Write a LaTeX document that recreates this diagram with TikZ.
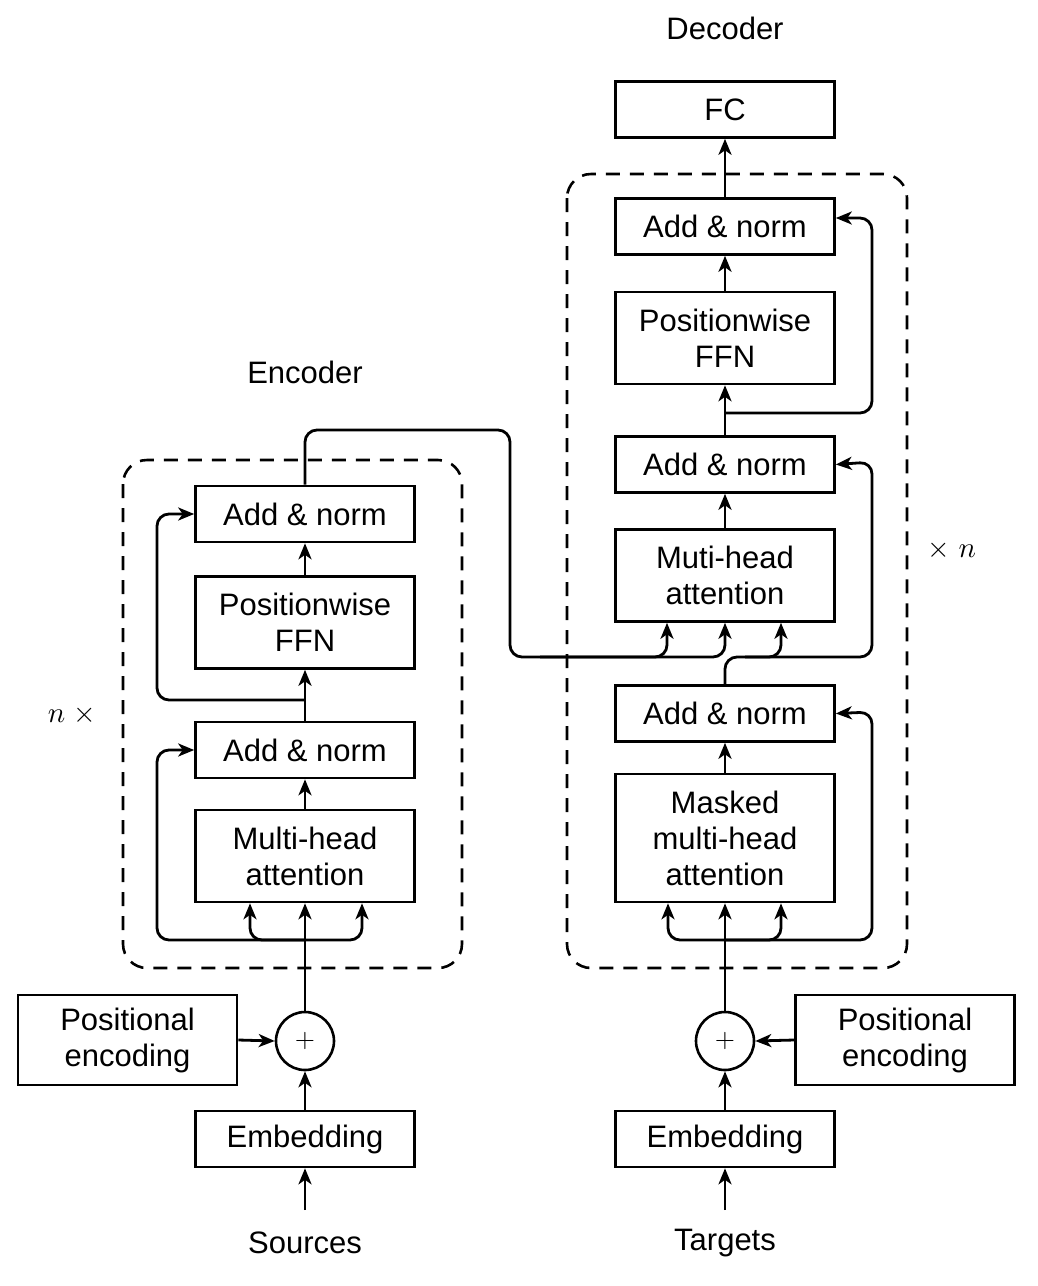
\documentclass[tikz,border=0pt]{standalone}
\usepackage{fontspec}
\setmainfont{Liberation Sans}
\usetikzlibrary{arrows.meta}
\begin{document}
\begin{tikzpicture}[x=1pt,y=-1pt,
  txt/.style={font=\fontsize{31}{36}\selectfont},
  box/.style={txt, draw, line width=2.6pt, minimum width=219pt, align=center, inner sep=0pt},
  conn/.style={line width=2.8pt, rounded corners=12pt},
  arr/.style={conn, -{Stealth[length=16pt,width=13pt,inset=4.5pt]}},
  plus/.style={draw, circle, line width=2.6pt, minimum size=58pt, inner sep=0pt},
  mathlbl/.style={scale=2.9, inner sep=0pt},
  dashbox/.style={draw, line width=2.6pt, dash pattern=on 14pt off 10pt, rounded corners=24pt}]
\useasboundingbox (0,0) rectangle (1038,1286);

% ---------- Encoder ----------
\draw[dashbox] (123,460) rectangle (462,968);
\node[txt] (enclbl) at (305,372) {Encoder};
\node[mathlbl] (nx) at (72,715) {$n\;\times$};

\node[box, minimum height=56pt] (ean2) at (305,514) {Add \& norm};
\node[box, minimum height=92pt] (effn) at (305,622.5) {Positionwise\\FFN};
\node[box, minimum height=56pt] (ean1) at (305,750) {Add \& norm};
\node[box, minimum height=92pt] (emha) at (305,856) {Multi-head\\attention};
\node[plus] (eplus) at (305,1041) {\scalebox{2.6}{$+$}};
\node[box, minimum height=90pt] (epos) at (127.5,1040) {Positional\\encoding};
\node[box, minimum height=56pt] (eemb) at (305,1139) {Embedding};
\node[txt] (src) at (305,1243) {Sources};
\coordinate (srcarr) at (305,1210);

\coordinate (ej) at (305,940);
\coordinate (er1) at (157,750);
\coordinate (ej2) at (305,700);
\coordinate (er2) at (157,514);

\draw[arr] (srcarr) -- (eemb.south);
\draw[arr] (eemb.north) -- (eplus.south);
\draw[arr] (epos.east) -- (eplus.west);
\draw[arr] (eplus.north) -- (emha.south);
\draw[arr] (ej) -| ([xshift=-55pt]emha.south);
\draw[arr] (ej) -| ([xshift=57pt]emha.south);
\draw[arr] (ej) -| (er1) -- (ean1.west);
\draw[arr] (emha.north) -- (ean1.south);
\draw[arr] (ean1.north) -- (effn.south);
\draw[arr] (ej2) -| (er2) -- (ean2.west);
\draw[arr] (effn.north) -- (ean2.south);

% ---------- Decoder ----------
\draw[dashbox] (567,174) rectangle (907,968);
\node[txt] (declbl) at (725,28) {Decoder};
\node[mathlbl] (xn) at (952,550) {$\times\; n$};

\node[box, minimum height=56pt] (fc) at (725,109.5) {FC};
\node[box, minimum height=56pt] (dan3) at (725,226.5) {Add \& norm};
\node[box, minimum height=92pt] (dffn) at (725,338) {Positionwise\\FFN};
\node[box, minimum height=56pt] (dan2) at (725,464.5) {Add \& norm};
\node[box, minimum height=92pt] (dmha) at (725,575.5) {Muti-head\\attention};
\node[box, minimum height=56pt] (dan1) at (725,713.5) {Add \& norm};
\node[box, minimum height=128pt] (dmmha) at (725,838) {Masked\\multi-head\\attention};
\node[plus] (dplus) at (725,1041) {\scalebox{2.6}{$+$}};
\node[box, minimum height=90pt] (dpos) at (905,1040) {Positional\\encoding};
\node[box, minimum height=56pt] (demb) at (725,1139) {Embedding};
\node[txt] (tgt) at (725,1243) {Targets};
\coordinate (tgtarr) at (725,1210);

\coordinate (dj) at (725,940);
\coordinate (dr1) at (872,712);
\coordinate (dj2) at (725,657);
\coordinate (dj2b) at (745,657);
\coordinate (dr2) at (872,462);
\coordinate (dj3) at (725,413);
\coordinate (dr3) at (872,218);

\draw[arr] (tgtarr) -- (demb.south);
\draw[arr] (demb.north) -- (dplus.south);
\draw[arr] (dpos.west) -- (dplus.east);
\draw[arr] (dplus.north) -- (dmmha.south);
\draw[arr] (dj) -| ([xshift=-57pt]dmmha.south);
\draw[arr] (dj) -| ([xshift=56pt]dmmha.south);
\draw[arr] (dj) -| (dr1) -- (dan1.east);
\draw[arr] (dmmha.north) -- (dan1.south);
\draw[arr] (dan1.north) -- (dj2) -| ([xshift=56pt]dmha.south);
\draw[arr] (dj2b) -| (dr2) -- (dan2.east);
\draw[arr] (dmha.north) -- (dan2.south);
\draw[arr] (dan2.north) -- (dffn.south);
\draw[arr] (dj3) -| (dr3) -- (dr3 -| dan3.east);
\draw[arr] (dffn.north) -- (dan3.south);
\draw[arr] (dan3.north) -- (fc.south);

% ---------- Encoder to decoder ----------
\coordinate (ec1) at (305,430);
\coordinate (ec2) at (510,430);
\coordinate (ec3) at (510,657);
\coordinate (ec4) at (540,657);
\draw[arr] (ean2.north) -- (ec1) -- (ec2) -- (ec3) -| (dmha.south);
\draw[arr] (ec4) -| ([xshift=-58pt]dmha.south);
\end{tikzpicture}
\end{document}
